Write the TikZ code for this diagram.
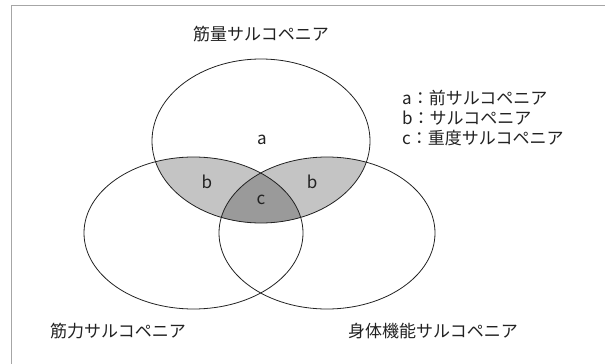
\documentclass[tikz,border=0pt]{standalone}
\usepackage{fontspec}
\newfontfamily\jp{Noto Sans CJK JP}
\definecolor{ink}{HTML}{222222}
\definecolor{bfill}{HTML}{C4C4C4}
\definecolor{cfill}{HTML}{9A9A9A}
\tikzset{
  venn/.style={draw=ink, line width=0.8pt},
  lbl/.style={font=\jp\fontsize{17}{20}\selectfont, text=ink, inner sep=0pt},
  legend/.style={lbl, anchor=west},
  frame/.style={draw=gray!70, line width=0.8pt}
}
\begin{document}
\begin{tikzpicture}[x=1pt,y=-1pt]
\useasboundingbox (0,0) rectangle (605,364);
\coordinate (T) at (261,141);
\coordinate (L) at (193.5,233);
\coordinate (R) at (327,233);
\coordinate (f1) at (11,380);
\coordinate (f2) at (11,5);
\coordinate (f3) at (620,5);
\draw[frame] (f1) -- (f2) -- (f3);
% b regions
\begin{scope}
  \clip (T) ellipse [x radius=109, y radius=82];
  \fill[bfill] (L) ellipse [x radius=109.5, y radius=76];
  \fill[bfill] (R) ellipse [x radius=108, y radius=76];
\end{scope}
% c region
\begin{scope}
  \clip (T) ellipse [x radius=109, y radius=82];
  \clip (L) ellipse [x radius=109.5, y radius=76];
  \fill[cfill] (R) ellipse [x radius=108, y radius=76];
\end{scope}
\draw[venn] (T) ellipse [x radius=109, y radius=82];
\draw[venn] (L) ellipse [x radius=109.5, y radius=76];
\draw[venn] (R) ellipse [x radius=108, y radius=76];
% region labels
\node[lbl] (la) at (262,140) {a};
\node[lbl] (lb1) at (207,182) {b};
\node[lbl] (lb2) at (312,182) {b};
\node[lbl] (lc) at (261,200) {c};
% set titles
\node[lbl] (tt) at (261,34) {筋量サルコペニア};
\node[lbl] (tl) at (118,331) {筋力サルコペニア};
\node[lbl] (tr) at (433,331) {身体機能サルコペニア};
% legend
\node[legend] (ga) at (402,98) {a：前サルコペニア};
\node[legend] (gb) at (402,118) {b：サルコペニア};
\node[legend] (gc) at (402,138) {c：重度サルコペニア};
\end{tikzpicture}
\end{document}
